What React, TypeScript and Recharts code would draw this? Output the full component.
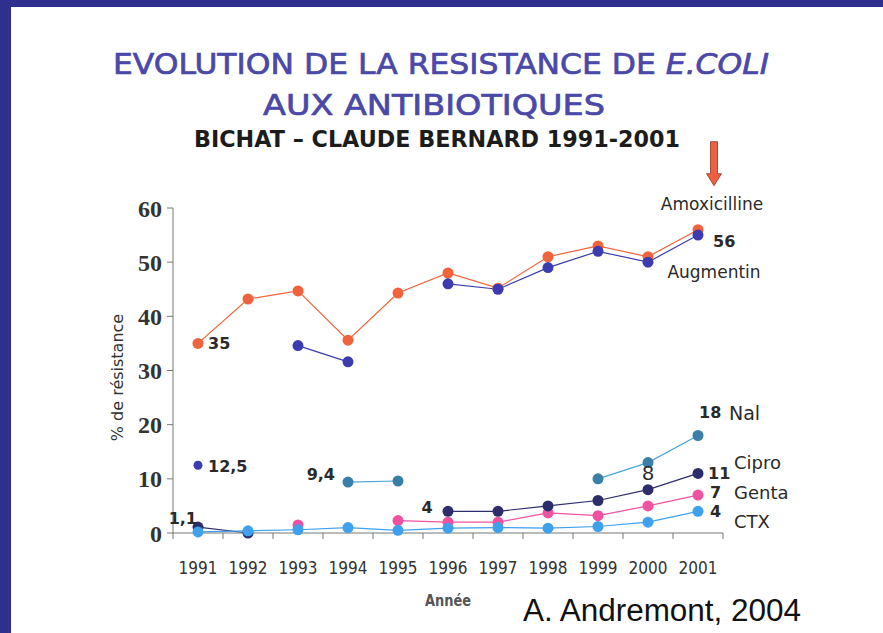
import React from 'react';
import { LineChart, Line, XAxis, YAxis } from 'recharts';

const years = ['1991', '1992', '1993', '1994', '1995', '1996', '1997', '1998', '1999', '2000', '2001'];
const amox = [35, 43.2, 44.7, 35.6, 44.3, 48, 45.2, 51, 53, 51, 56];
const augmentin = [null, null, 34.6, 31.6, null, 46, 45, 49, 52, 50, 55];
const point1991 = [12.5, null, null, null, null, null, null, null, null, null, null];
const nal = [null, null, null, 9.4, 9.6, null, null, null, 10, 13, 18];
const genta = [null, null, 1.5, null, 2.3, 2, 2, 3.7, 3.2, 5, 7];
const cipro = [1.1, 0, null, null, null, 4, 4, 5, 6, 8, 11];
const ctx = [0.2, 0.4, 0.6, 1, 0.5, 0.9, 1, 0.9, 1.2, 2, 4];
const yTicks = [0, 10, 20, 30, 40, 50, 60];

const data = years.map((year, i) => ({
  year,
  amox: amox[i],
  augmentin: augmentin[i],
  point1991: point1991[i],
  nal: nal[i],
  genta: genta[i],
  cipro: cipro[i],
  ctx: ctx[i],
}));

const COLORS = {
  amox: '#f0633c',
  augmentin: '#3c3cb0',
  point1991: '#3c3cb0',
  nal: '#3a7fa8',
  genta: '#f052a2',
  cipro: '#2d2d6c',
  ctx: '#3fa0ee',
};
const LINE_COLORS = { ...COLORS, nal: '#4aa6d6' };

const HAND = '"DejaVu Sans", sans-serif';
const NARROW = '"DejaVu Sans Condensed", "DejaVu Sans", sans-serif';
const ARIAL = '"Liberation Sans", Arial, sans-serif';
const W = 883;
const H = 633;

type Note = {
  series: string; year: string; text: string; dx: number; dy: number;
  anchor?: 'start' | 'middle' | 'end'; size?: number; bold?: boolean; font?: string;
};

// annotations, placed relative to their data point
const notes: Note[] = [
  { series: 'amox', year: '1991', text: '35', dx: 10, dy: 0, bold: true },
  { series: 'amox', year: '2001', text: '56', dx: 15, dy: 12, bold: true },
  { series: 'amox', year: '2001', text: 'Amoxicilline', dx: 14, dy: -26, anchor: 'middle', size: 17 },
  { series: 'augmentin', year: '2001', text: 'Augmentin', dx: 16, dy: 37, anchor: 'middle', size: 17 },
  { series: 'point1991', year: '1991', text: '12,5', dx: 10, dy: 1, bold: true },
  { series: 'cipro', year: '1991', text: '1,1', dx: -1, dy: -9, anchor: 'end', bold: true },
  { series: 'nal', year: '1994', text: '9,4', dx: -13, dy: -8, anchor: 'end', bold: true },
  { series: 'cipro', year: '1996', text: '4', dx: -21, dy: -4, anchor: 'middle', bold: true },
  { series: 'cipro', year: '2000', text: '8', dx: 0, dy: -17, anchor: 'middle', size: 21, font: ARIAL },
  { series: 'nal', year: '2001', text: '18', dx: 1, dy: -23, bold: true },
  { series: 'nal', year: '2001', text: 'Nal', dx: 31, dy: -23, size: 19 },
  { series: 'cipro', year: '2001', text: '11', dx: 10, dy: 0, bold: true },
  { series: 'cipro', year: '2001', text: 'Cipro', dx: 36, dy: -11, size: 18 },
  { series: 'genta', year: '2001', text: '7', dx: 12, dy: -3, bold: true },
  { series: 'genta', year: '2001', text: 'Genta', dx: 36, dy: -3, size: 18 },
  { series: 'ctx', year: '2001', text: '4', dx: 12, dy: 0, bold: true },
  { series: 'ctx', year: '2001', text: 'CTX', dx: 36, dy: 10, size: 18 },
];

const noteLabel = (series: string) => (props: any) => {
  const { x, y, index } = props;
  if (x == null || y == null) return null;
  const year = years[index];
  const list = notes.filter((n) => n.series === series && n.year === year);
  if (!list.length) return null;
  const arrow = series === 'amox' && year === '2001';
  return (
    <g key={`${series}-${index}`}>
      {arrow && (
        <polygon
          points={`${x + 12.5},${y - 88} ${x + 19.5},${y - 88} ${x + 19.5},${y - 56} ${x + 23.5},${y - 56} ${x + 16},${y - 44} ${x + 8.5},${y - 56} ${x + 12.5},${y - 56}`}
          fill="#ee6040"
          stroke="#8a3a2a"
          strokeWidth={0.8}
        />
      )}
      {list.map((n) => (
        <text
          key={n.text}
          x={x + n.dx}
          y={y + n.dy}
          textAnchor={n.anchor || 'start'}
          dominantBaseline="central"
          fontFamily={n.font || HAND}
          fontSize={n.size || 16}
          fontWeight={n.bold ? 700 : 400}
          fill="#2a2a2a"
        >
          {n.text}
        </text>
      ))}
    </g>
  );
};

const XTick = (props: any) => {
  const { x, y, payload, index } = props;
  const half = 25;
  return (
    <g>
      <line x1={x - half} x2={x - half} y1={y} y2={y + 6} stroke="#777" />
      {index === years.length - 1 && <line x1={x + half} x2={x + half} y1={y} y2={y + 6} stroke="#777" />}
      <text x={x} y={y + 35} textAnchor="middle" dominantBaseline="central" fontFamily={NARROW} fontSize={17} fill="#333">
        {payload.value}
      </text>
    </g>
  );
};

const YLabel = (props: any) => {
  const { viewBox } = props;
  const cx = viewBox.x + 4;
  const cy = viewBox.y + viewBox.height / 2 + 7;
  return (
    <text x={cx} y={cy} transform={`rotate(-90 ${cx} ${cy})`} textAnchor="middle" dominantBaseline="central" fontFamily={HAND} fontSize={16} fill="#333">
      % de résistance
    </text>
  );
};

const series: { key: keyof typeof COLORS; r: number }[] = [
  { key: 'amox', r: 5.5 },
  { key: 'augmentin', r: 5.5 },
  { key: 'point1991', r: 4.5 },
  { key: 'nal', r: 5.5 },
  { key: 'genta', r: 5.5 },
  { key: 'cipro', r: 5.5 },
  { key: 'ctx', r: 5.5 },
];

export default function App() {
  return (
    <div style={{ position: 'absolute', left: 0, top: 0, width: W, height: H, background: '#fff', overflow: 'hidden' }}>
      <div style={{ position: 'absolute', left: 0, top: 0, width: W, height: 7, background: '#2e2f8e' }} />
      <div style={{ position: 'absolute', left: 0, top: 0, width: 11, height: H, background: '#2e2f8e' }} />
      <svg width={W} height={H} style={{ position: 'absolute', left: 0, top: 0 }}>
        <text x={441} y={64} textAnchor="middle" dominantBaseline="central" fontFamily={HAND} fontSize={29} fill="#4a48a8" stroke="#4a48a8" strokeWidth={0.7} textLength={656} lengthAdjust="spacingAndGlyphs">
          EVOLUTION DE LA RESISTANCE DE <tspan fontStyle="italic">E.COLI</tspan>
        </text>
        <text x={434} y={105} textAnchor="middle" dominantBaseline="central" fontFamily={HAND} fontSize={29} fill="#4a48a8" stroke="#4a48a8" strokeWidth={0.7} textLength={342} lengthAdjust="spacingAndGlyphs">
          AUX ANTIBIOTIQUES
        </text>
        <text x={437} y={139} textAnchor="middle" dominantBaseline="central" fontFamily={HAND} fontSize={23} fontWeight={700} fill="#1c1c1c" textLength={486} lengthAdjust="spacingAndGlyphs">
          BICHAT – CLAUDE BERNARD 1991-2001
        </text>
        <text x={448} y={601} textAnchor="middle" dominantBaseline="central" fontFamily={NARROW} fontSize={15} fontWeight={700} fill="#555" textLength={46} lengthAdjust="spacingAndGlyphs">
          Année
        </text>
        <text x={523} y={621} fontFamily={ARIAL} fontSize={31} fill="#111" textLength={278} lengthAdjust="spacingAndGlyphs">
          A. Andremont, 2004
        </text>
      </svg>
      <LineChart
        width={W}
        height={H}
        data={data}
        margin={{ top: 208, right: 160, bottom: 60, left: 113 }}
        style={{ position: 'absolute', left: 0, top: 0 }}
      >
        <XAxis
          dataKey="year"
          padding={{ left: 25, right: 25 }}
          tickLine={false}
          tickSize={0}
          tickMargin={0}
          interval={0}
          height={40}
          axisLine={{ stroke: '#777' }}
          tick={<XTick />}
        />
        <YAxis
          domain={[0, 60]}
          ticks={yTicks}
          width={60}
          axisLine={{ stroke: '#777' }}
          tickLine={{ stroke: '#777' }}
          tickSize={6}
          tickMargin={5}
          tick={{ fontFamily: '"Liberation Serif", serif', fontSize: 24, fontWeight: 700, fill: '#333' }}
          label={<YLabel />}
        />
        {series.map((s) => (
          <Line
            key={s.key}
            dataKey={s.key}
            stroke={LINE_COLORS[s.key]}
            strokeWidth={1.2}
            dot={{ r: s.r, fill: COLORS[s.key], stroke: COLORS[s.key], strokeWidth: 0 }}
            activeDot={false}
            isAnimationActive={false}
            label={noteLabel(s.key)}
          />
        ))}
      </LineChart>
    </div>
  );
}
